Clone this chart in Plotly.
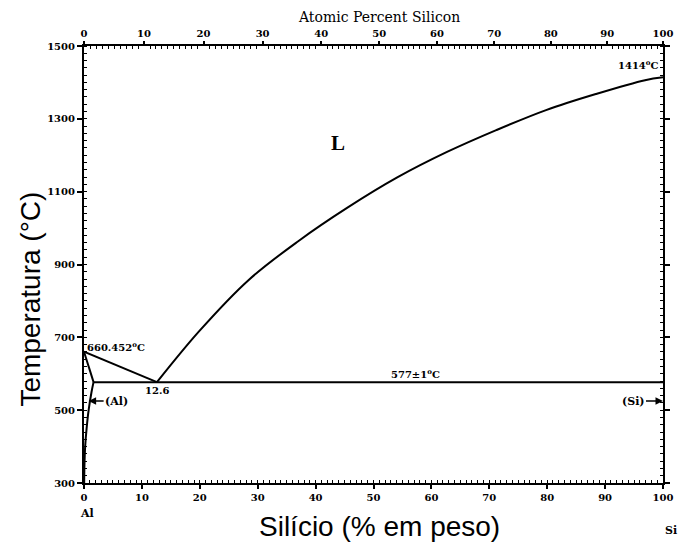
import plotly.graph_objects as go

# ---- data ----
M_AL = 26.9815
M_SI = 28.0855

temp_ticks = [300, 500, 700, 900, 1100, 1300, 1500]
wt_ticks = [0, 10, 20, 30, 40, 50, 60, 70, 80, 90, 100]
at_ticks = [0, 10, 20, 30, 40, 50, 60, 70, 80, 90, 100]

liq_al_x = [0, 12.6]
liq_al_y = [660.452, 577]

liq_si_x = [12.6, 19.9, 28.4, 37.0, 45.5, 54.1, 62.7, 71.2, 79.8, 88.4, 96.9, 100]
liq_si_y = [577, 717, 857, 964, 1056, 1139, 1209, 1269, 1324, 1368, 1406, 1414]

solidus_x = [0, 1.65]
solidus_y = [660.452, 577]

solvus_x = [1.65, 1.3, 0.8, 0.45, 0.2, 0.08, 0.03]
solvus_y = [577, 550, 500, 450, 400, 350, 300]

eut_x = [1.65, 100]
eut_y = [577, 577]


def at_to_wt(a):
    return 100 * a * M_SI / (a * M_SI + (100 - a) * M_AL)


at_tickpos = [at_to_wt(a) for a in at_ticks]
at_minorpos = [at_to_wt(a) for a in range(0, 101) if a % 10 != 0]

fig = go.Figure()
for xs, ys, shp in [(liq_al_x, liq_al_y, "linear"), (liq_si_x, liq_si_y, "spline"),
                    (solidus_x, solidus_y, "linear"), (solvus_x, solvus_y, "spline"),
                    (eut_x, eut_y, "linear")]:
    fig.add_trace(go.Scatter(x=xs, y=ys, mode="lines", line=dict(color="black", width=2, shape=shp),
                             showlegend=False, hoverinfo="skip"))
# invisible trace for top axis
fig.add_trace(go.Scatter(x=[0, 100], y=[300, 300], xaxis="x2", mode="lines",
                         line=dict(width=0), showlegend=False, hoverinfo="skip"))

SERIF = "DejaVu Serif"
tickfont = dict(family=SERIF, size=10, color="black", weight="bold")

fig.update_layout(
    width=685, height=542,
    margin=dict(l=84, r=17, t=46, b=59),
    paper_bgcolor="white", plot_bgcolor="white",
    xaxis=dict(range=[0, 100], tickvals=wt_ticks, ticktext=[str(v) for v in wt_ticks],
               showgrid=False, zeroline=False, showline=True, linecolor="black", linewidth=2,
               ticks="outside", ticklen=4, tickcolor="black", tickwidth=1.5,
               minor=dict(dtick=1, ticks="inside", ticklen=3, tickcolor="black", tickwidth=1),
               tickfont=tickfont, mirror=True),
    xaxis2=dict(range=[0, 100], overlaying="x", side="top", tickmode="array",
                tickvals=at_tickpos, ticktext=[str(v) for v in at_ticks],
                showgrid=False, zeroline=False, showline=False,
                ticks="outside", ticklen=4, tickcolor="black", tickwidth=1.5,
                minor=dict(tickmode="array", tickvals=at_minorpos, ticks="inside", ticklen=3,
                           tickcolor="black", tickwidth=1),
                tickfont=tickfont),
    yaxis=dict(range=[300, 1500], tickvals=temp_ticks, showgrid=False, zeroline=False,
               showline=True, linecolor="black", linewidth=2, mirror="ticks",
               ticks="outside", ticklen=5, tickcolor="black", tickwidth=1.5,
               minor=dict(dtick=20, ticks="inside", ticklen=3, tickcolor="black", tickwidth=1),
               tickfont=tickfont),
)

# axis titles
fig.add_annotation(x=0.51, y=1.0, xref="paper", yref="paper", yshift=29, yanchor="middle",
                   text="Atomic Percent Silicon", showarrow=False,
                   font=dict(family=SERIF, size=14, color="black"))
fig.add_annotation(x=0.51, y=-0.1, xref="paper", yref="paper", yanchor="middle",
                   text="Silício (% em peso)", showarrow=False,
                   font=dict(family="Liberation Sans", size=28, color="black"))
fig.add_annotation(x=-0.093, y=0.42, xref="paper", yref="paper", textangle=-90,
                   xanchor="center", yanchor="middle",
                   text="Temperatura (°C)", showarrow=False,
                   font=dict(family="Liberation Sans", size=28, color="black"))

afont = dict(family=SERIF, size=10, color="black", weight="bold")
fig.add_annotation(x=99.6, y=1414, text="1414<sup>o</sup>C", showarrow=False,
                   xanchor="right", yanchor="bottom", yshift=4, font=afont)
fig.add_annotation(x=43.8, y=1235, text="L", showarrow=False,
                   font=dict(family="Liberation Serif", size=21, color="black", weight="bold"))
fig.add_annotation(x=0.2, y=660.452, text="660.452<sup>o</sup>C", showarrow=False,
                   xanchor="left", yanchor="bottom", yshift=-3, font=afont)
fig.add_annotation(x=12.6, y=577, text="12.6", showarrow=False,
                   yanchor="top", yshift=-1, font=afont)
fig.add_annotation(x=57.2, y=577, text="577±1<sup>o</sup>C", showarrow=False,
                   yanchor="bottom", yshift=0, font=afont)
fig.add_annotation(x=0.8, y=525, text="(Al)", showarrow=True, ax=28, ay=0,
                   arrowhead=2, arrowsize=1, arrowwidth=1.5, arrowcolor="black",
                   font=dict(family=SERIF, size=11, color="black", weight="bold"))
fig.add_annotation(x=100, y=525, text="(Si)", showarrow=True, ax=-30, ay=0,
                   arrowhead=2, arrowsize=1, arrowwidth=1.5, arrowcolor="black",
                   font=dict(family=SERIF, size=11, color="black", weight="bold"))
fig.add_annotation(x=0, y=0, xref="x", yref="paper", text="Al", showarrow=False,
                   yanchor="middle", yshift=-30, xshift=3,
                   font=dict(family=SERIF, size=11, color="black", weight="bold"))
fig.add_annotation(x=100, y=0, xref="x", yref="paper", text="Si", showarrow=False,
                   yanchor="middle", yshift=-47, xshift=8,
                   font=dict(family=SERIF, size=11, color="black", weight="bold"))

fig.write_html("out.html")
